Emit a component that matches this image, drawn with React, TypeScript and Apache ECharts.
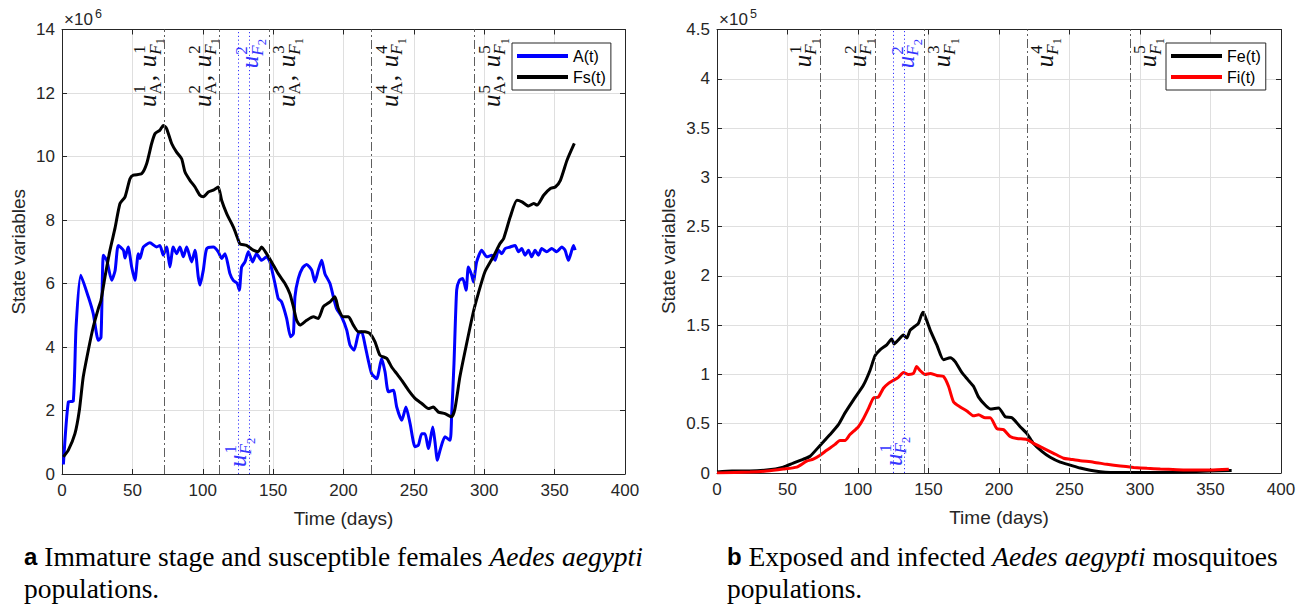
import { useEffect, useRef } from 'react';
import * as echarts from 'echarts';

// ---------- axis ranges / ticks ----------
const DAYS_RANGE = [0, 400];
const DAYS_STEP = 50;
const LEFT_Y_RANGE = [0, 14]; // x 10^6
const LEFT_Y_STEP = 2;
const RIGHT_Y_RANGE = [0, 4.5]; // x 10^5
const RIGHT_Y_STEP = 0.5;
const LEFT_EXPONENT = '6';
const RIGHT_EXPONENT = '5';

// ---------- intervention days ----------
const CONTROL_DAYS = [73, 112, 147, 220, 293]; // u_A^k , u_F1^k
const F2_DAYS = [125, 133]; // u_F2^1 , u_F2^2

// ---------- A(t) (x 10^6) ----------
const A_T = [1, 4.5, 8, 10, 13.3, 18.7, 22.2, 25.8, 27.7, 29.4, 31.8, 35.3, 37.7, 40, 43.6, 44.8, 47, 49.5, 51.8, 54.2, 55.4, 57.8, 62.5, 67.2, 69.6, 71.9, 74.3, 76.7, 79, 81.4, 83.8, 86.2, 88.6, 92.1, 94.5, 96.8, 98, 100.4, 102.8, 107.5, 111, 113.4, 115.8, 119.3, 121.7, 124.5, 126, 127.6, 130, 132.4, 135.4, 138.2, 141.8, 145.3, 147.7, 151.3, 153.6, 156, 159.6, 162.4, 164.4, 165.5, 167.9, 171, 173.8, 177.4, 179.7, 182.1, 184.5, 186.8, 190.4, 192.8, 195.1, 198.7, 202.3, 204.6, 207.5, 210.6, 212.9, 215.3, 217.6, 220, 223.6, 227.1, 229.5, 231.9, 235.4, 237.8, 241.4, 244.4, 247.3, 250.8, 253.2, 255.6, 257.9, 260.3, 263.4, 265, 266.7, 268.6, 272.1, 275.7, 276.8, 278.5, 280.4, 282.3, 284.7, 287.1, 288.7, 291.1, 292.3, 294.6, 298.2, 301.8, 305.4, 307.7, 310.1, 312.5, 314.8, 318.4, 321.9, 324.3, 326.6, 329, 331.4, 333.7, 336.1, 338.5, 340.8, 344.4, 347.9, 351.5, 355.1, 357.4, 359.8, 361.5, 363.4, 364.6];
const A_V = [0.3, 2.27, 2.3, 4.63, 6.26, 5.58, 5.05, 4.21, 4.3, 6.89, 6.73, 6.1, 6.4, 7.2, 7.05, 6.8, 7.15, 6.52, 6.1, 6.94, 6.79, 7.15, 7.28, 7.15, 7.2, 6.89, 7.15, 6.52, 7.15, 6.94, 7.15, 6.84, 7.15, 6.68, 7.05, 6.21, 5.95, 6.42, 7.1, 7.15, 7.0, 6.79, 6.94, 6.31, 6.1, 6.0, 5.79, 6.52, 6.68, 7.0, 6.68, 6.94, 6.73, 6.84, 6.68, 6.0, 5.53, 5.42, 4.9, 4.32, 4.42, 5.58, 6.16, 6.5, 6.6, 6.42, 6.05, 6.42, 6.73, 6.31, 6.0, 5.58, 5.21, 4.95, 4.53, 4.06, 3.9, 4.42, 4.48, 4.06, 3.58, 3.16, 3.0, 3.64, 3.22, 2.59, 2.64, 2.11, 1.69, 2.11, 1.59, 0.86, 0.91, 1.27, 1.27, 0.8, 1.48, 1.01, 0.43, 0.75, 1.17, 1.06, 1.8, 3.48, 5.79, 6.1, 6.16, 5.79, 6.52, 6.26, 6.05, 6.68, 7.05, 6.84, 6.89, 6.73, 7.05, 6.94, 7.1, 7.15, 7.2, 7.0, 7.1, 6.89, 7.05, 6.84, 7.05, 6.89, 7.1, 7.0, 7.1, 7.0, 7.15, 7.05, 6.73, 6.94, 7.2, 7.05];

// ---------- Fs(t) (x 10^6) ----------
const FS_T = [1, 4.5, 9.2, 12.3, 15.1, 18.7, 22.2, 25.8, 27.7, 30.5, 34.1, 37.7, 41.2, 44.8, 48.3, 50.7, 56.6, 60.2, 63.7, 66.1, 69.6, 72, 74.3, 77.9, 81.4, 85, 87.4, 90.9, 94.5, 98, 100.4, 104, 107.5, 111, 113.4, 117, 121.7, 124.5, 126.4, 131.1, 135.9, 139.4, 141.8, 145.3, 148.9, 153.6, 158.4, 161.9, 164.4, 166.7, 169.1, 173.8, 178.6, 182.1, 185.7, 190.4, 193.9, 196.3, 199.9, 203.5, 207, 210.6, 215.3, 218.8, 222.4, 225.9, 230.7, 234.2, 237.8, 241.4, 246.1, 250.8, 255.6, 260.3, 263.8, 267.4, 272.1, 276.8, 279.2, 282.7, 287.5, 292.3, 295.8, 300.5, 306.4, 311.2, 313.8, 318.5, 323.2, 326.8, 331.5, 335.1, 337.5, 342.2, 347, 350.5, 354.1, 358.8, 364];
const FS_V = [0.54, 0.75, 1.27, 2.0, 3.06, 3.9, 4.63, 5.21, 5.47, 6.2, 7.05, 7.75, 8.52, 8.73, 9.3, 9.41, 9.46, 9.78, 10.41, 10.72, 10.83, 10.98, 10.88, 10.41, 10.14, 9.93, 9.51, 9.25, 9.04, 8.78, 8.73, 8.88, 8.94, 9.04, 8.62, 8.2, 7.78, 7.46, 7.25, 7.2, 7.05, 7.0, 7.15, 6.94, 6.68, 6.31, 6.0, 5.68, 5.27, 4.84, 4.69, 4.84, 4.95, 4.9, 5.27, 5.42, 5.58, 5.21, 4.95, 4.95, 4.69, 4.48, 4.48, 4.42, 4.16, 3.74, 3.64, 3.37, 3.16, 2.95, 2.64, 2.38, 2.22, 2.06, 2.11, 1.95, 1.9, 1.8, 2.06, 3.06, 4.11, 5.11, 5.69, 6.37, 6.84, 7.26, 7.42, 8.1, 8.62, 8.57, 8.44, 8.52, 8.47, 8.78, 8.99, 9.04, 9.25, 9.88, 10.41];

// ---------- Fe(t) (x 10^5) ----------
const FE_T = [0, 10.6, 23.4, 35.2, 47, 54.1, 61.3, 66, 73.1, 80.2, 86.1, 90.8, 96.7, 103.8, 108.5, 112.1, 115.6, 120.4, 123.9, 125.6, 128.6, 132.2, 134.6, 137, 140.5, 142.9, 146, 147.6, 151.2, 155.9, 160.6, 165.4, 168.9, 173.6, 177.7, 181.9, 185.5, 190.2, 193.8, 199.7, 204.4, 209.2, 215, 219.8, 224.5, 230.4, 236.3, 243.4, 250.5, 257.6, 264.7, 271.8, 278.9, 290, 310, 330, 350, 365];
const FE_V = [0.01, 0.02, 0.02, 0.03, 0.06, 0.1, 0.14, 0.17, 0.28, 0.39, 0.49, 0.61, 0.74, 0.89, 1.04, 1.19, 1.25, 1.3, 1.36, 1.31, 1.35, 1.4, 1.37, 1.45, 1.49, 1.52, 1.63, 1.59, 1.45, 1.3, 1.15, 1.17, 1.13, 1.02, 0.95, 0.88, 0.77, 0.69, 0.65, 0.66, 0.57, 0.56, 0.47, 0.4, 0.3, 0.22, 0.16, 0.11, 0.08, 0.05, 0.027, 0.013, 0.006, 0.004, 0.005, 0.01, 0.02, 0.025];

// ---------- Fi(t) (x 10^5) ----------
const FI_T = [0, 23.4, 35.2, 47, 56.5, 63.6, 68.3, 73.1, 77.8, 83.7, 87.2, 90.8, 94.3, 100.3, 103.8, 107.3, 110.9, 114.4, 118, 121.6, 125.1, 128.6, 132.2, 135.7, 139.3, 141.6, 144, 147.6, 151.2, 155.9, 160.6, 164.2, 167.8, 172.5, 177.2, 182, 185.5, 190.2, 193.8, 198.5, 203.2, 207.9, 212.7, 219.8, 224.5, 231.6, 238.7, 245.8, 250.5, 257.6, 267.1, 276.5, 286, 295.5, 305, 314.4, 326.3, 338.1, 349.9, 363];
const FI_V = [0, 0.01, 0.02, 0.04, 0.06, 0.12, 0.14, 0.18, 0.23, 0.29, 0.33, 0.33, 0.39, 0.47, 0.55, 0.65, 0.76, 0.77, 0.86, 0.91, 0.94, 0.97, 1.02, 1.0, 1.01, 1.08, 1.04, 1.0, 1.01, 0.99, 0.98, 0.88, 0.72, 0.67, 0.63, 0.58, 0.59, 0.56, 0.56, 0.45, 0.44, 0.37, 0.35, 0.34, 0.3, 0.25, 0.2, 0.15, 0.14, 0.125, 0.11, 0.088, 0.07, 0.057, 0.047, 0.04, 0.034, 0.03, 0.03, 0.037];

const LEFT_SERIES = ['A(t)', 'Fs(t)'];
const RIGHT_SERIES = ['Fe(t)', 'Fi(t)'];
const X_NAME = 'Time (days)';
const Y_NAME = 'State variables';

const AXIS_COLOR = '#262626';
const GRID_COLOR = '#dfdfdf';
const CTRL_COLOR = '#5f5f5f';
const F2_COLOR = '#3535ff';
const SANS = '"Liberation Sans", Arial, sans-serif';
const SERIF_NAME = 'Liberation Serif';
const SERIF = '"Liberation Serif", "Times New Roman", serif';
const TICK_FONT = 17;
const NAME_FONT = 19;

const zip = (t: number[], v: number[]) => t.map((x, i) => [x, v[i]]);

function xAxes(gridIndex: number) {
  const base = {
    type: 'value', gridIndex, min: DAYS_RANGE[0], max: DAYS_RANGE[1], interval: DAYS_STEP,
    axisLine: { show: true, onZero: false, lineStyle: { color: AXIS_COLOR, width: 1 } },
    axisTick: { show: true, inside: true, length: 5, lineStyle: { color: AXIS_COLOR } },
  };
  return [
    {
      ...base, position: 'bottom',
      axisLabel: { fontSize: TICK_FONT, color: AXIS_COLOR, fontFamily: SANS, margin: 8 },
      splitLine: { show: true, lineStyle: { color: GRID_COLOR, width: 1 } },
      name: X_NAME, nameLocation: 'middle', nameGap: 34.5,
      nameTextStyle: { fontSize: NAME_FONT, color: AXIS_COLOR, fontFamily: SANS },
    },
    { ...base, position: 'top', axisLabel: { show: false }, splitLine: { show: false } },
  ];
}

function yAxes(gridIndex: number, range: number[], step: number, nameGap: number) {
  const base = {
    type: 'value', gridIndex, min: range[0], max: range[1], interval: step,
    axisLine: { show: true, onZero: false, lineStyle: { color: AXIS_COLOR, width: 1 } },
    axisTick: { show: true, inside: true, length: 5, lineStyle: { color: AXIS_COLOR } },
  };
  return [
    {
      ...base, position: 'left',
      axisLabel: { fontSize: TICK_FONT, color: AXIS_COLOR, fontFamily: SANS, margin: 7 },
      splitLine: { show: true, lineStyle: { color: GRID_COLOR, width: 1 } },
      name: Y_NAME, nameLocation: 'middle', nameGap,
      nameTextStyle: { fontSize: NAME_FONT, color: AXIS_COLOR, fontFamily: SANS },
    },
    { ...base, position: 'right', axisLabel: { show: false }, splitLine: { show: false } },
  ];
}

function markerSeries(xi: number, yi: number) {
  return {
    type: 'line', xAxisIndex: xi, yAxisIndex: yi, data: [], silent: true,
    markLine: {
      silent: true, symbol: ['none', 'none'], label: { show: false }, emphasis: { disabled: true },
      data: [
        ...CONTROL_DAYS.map((d) => ({ xAxis: d, lineStyle: { color: CTRL_COLOR, type: [9, 3, 2, 3], width: 1 } })),
        ...F2_DAYS.map((d) => ({ xAxis: d, lineStyle: { color: F2_COLOR, type: [1.2, 2.6], width: 1 } })),
      ],
    },
  };
}

function lineSeries(name: string, t: number[], v: number[], color: string, xi: number, yi: number) {
  return {
    type: 'line', name, xAxisIndex: xi, yAxisIndex: yi, data: zip(t, v),
    showSymbol: false, symbol: 'none', smooth: 0.2,
    lineStyle: { color, width: 3 }, itemStyle: { color },
    emphasis: { disabled: true },
  };
}

function legend(names: string[], left: number) {
  return {
    data: names, left, top: 43, orient: 'vertical', icon: 'rect',
    itemWidth: 51, itemHeight: 4, itemGap: 5, padding: [5, 5, 5, 5],
    borderColor: AXIS_COLOR, borderWidth: 1, backgroundColor: '#fff',
    textStyle: { fontSize: 16, color: '#000', fontFamily: SANS }, selectedMode: false,
  };
}

// ---------- LaTeX-like rotated labels ----------
const LF = 25, LS = 17, LSS = 12.5;
let measureCtx: CanvasRenderingContext2D | null = null;
function tw(s: string, size: number, italic: boolean) {
  if (!measureCtx) measureCtx = document.createElement('canvas').getContext('2d');
  measureCtx!.font = `${italic ? 'italic ' : ''}${size}px "${SERIF_NAME}"`;
  return measureCtx!.measureText(s).width;
}
function glyph(text: string, x: number, baseline: number, size: number, italic: boolean, color: string) {
  return {
    type: 'text', x, y: baseline - 0.34 * size, silent: true,
    style: {
      text, fontSize: size, fontFamily: SERIF, fontStyle: italic ? 'italic' : 'normal', fill: color,
      align: 'left', verticalAlign: 'middle', textAlign: 'left', textVerticalAlign: 'middle',
    },
  };
}
type Term = { sup: string; sub: string; subItalic: boolean; subsub?: string };
function buildLabel(terms: Term[], color: string) {
  const children: any[] = [];
  let x = 0;
  terms.forEach((t, i) => {
    if (i > 0) {
      children.push(glyph(',', x + 1, 0, LF, false, color));
      x += tw(',', LF, false) + 0.35 * LF;
    }
    children.push(glyph('u', x, 0, LF, true, color));
    const sx = x + tw('u', LF, true) + 0.5;
    children.push(glyph(t.sup, sx + 0.5, -0.42 * LF, LS, false, color));
    children.push(glyph(t.sub, sx - 0.5, 0.2 * LF, LS, t.subItalic, color));
    let subw = tw(t.sub, LS, t.subItalic) - 0.5;
    if (t.subsub) {
      children.push(glyph(t.subsub, sx + subw, 0.2 * LF + 0.14 * LF, LSS, false, color));
      subw += tw(t.subsub, LSS, false);
    }
    x = sx + Math.max(tw(t.sup, LS, false) + 0.5, subw);
  });
  return { children, length: x };
}

function buildGraphics(chart: echarts.ECharts) {
  const els: any[] = [];
  const px = (xi: number, v: number) => chart.convertToPixel({ xAxisIndex: xi } as any, v) as number;
  const py = (yi: number, v: number) => chart.convertToPixel({ yAxisIndex: yi } as any, v) as number;

  const panels = [
    { xi: 0, yi: 0, yMax: LEFT_Y_RANGE[1], withA: true, exp: LEFT_EXPONENT },
    { xi: 2, yi: 2, yMax: RIGHT_Y_RANGE[1], withA: false, exp: RIGHT_EXPONENT },
  ];
  panels.forEach((p) => {
    const top = py(p.yi, p.yMax);
    const bottom = py(p.yi, 0);
    const left = px(p.xi, DAYS_RANGE[0]);
    // exponent label
    els.push({ type: 'text', x: left + 2, y: top - 4.5 - 0.35 * 17, silent: true,
      style: { text: '\u00d710', fontSize: 17, fontFamily: SANS, fill: AXIS_COLOR, align: 'left', verticalAlign: 'middle', textAlign: 'left', textVerticalAlign: 'middle' } });
    els.push({ type: 'text', x: left + 2 + 31, y: top - 11.5 - 0.35 * 12.5, silent: true,
      style: { text: p.exp, fontSize: 12.5, fontFamily: SANS, fill: AXIS_COLOR, align: 'left', verticalAlign: 'middle', textAlign: 'left', textVerticalAlign: 'middle' } });

    CONTROL_DAYS.forEach((d, k) => {
      const n = String(k + 1);
      const terms: Term[] = p.withA
        ? [{ sup: n, sub: 'A', subItalic: false }, { sup: n, sub: 'F', subItalic: true, subsub: '1' }]
        : [{ sup: n, sub: 'F', subItalic: true, subsub: '1' }];
      const lb = buildLabel(terms, '#111');
      const off = k < 2 ? -8.5 : 26;
      els.push({ type: 'group', x: px(p.xi, d) + off, y: top + 8.5 + lb.length, rotation: Math.PI / 2, children: lb.children, silent: true });
    });
    // u_F2^2 at top
    const lt = buildLabel([{ sup: '2', sub: 'F', subItalic: true, subsub: '2' }], F2_COLOR);
    els.push({ type: 'group', x: px(p.xi, F2_DAYS[1]) + 9, y: top + 9.5 + lt.length, rotation: Math.PI / 2, children: lt.children, silent: true });
    // u_F2^1 at bottom
    const lbt = buildLabel([{ sup: '1', sub: 'F', subItalic: true, subsub: '2' }], F2_COLOR);
    els.push({ type: 'group', x: px(p.xi, F2_DAYS[0]) + 8.5, y: bottom - 7, rotation: Math.PI / 2, children: lbt.children, silent: true });
  });

  // captions
  const capRich = {
    b: { fontFamily: SANS, fontWeight: 'bold', fontSize: 24, fill: '#000' },
    r: { fontFamily: SERIF, fontSize: 27.5, fill: '#000' },
    i: { fontFamily: SERIF, fontStyle: 'italic', fontSize: 27.5, fill: '#000' },
  };
  const cap = (x: number, y: number, text: string) => ({
    type: 'text', x, y, silent: true,
    style: { text, rich: capRich, fontSize: 27.5, fontFamily: SERIF, fill: '#000', align: 'left', verticalAlign: 'middle', textAlign: 'left', textVerticalAlign: 'middle' },
  });
  els.push(cap(24, 556, '{b|a}{r| Immature stage and susceptible females }{i|Aedes aegypti}'));
  els.push(cap(24, 588, '{r|populations.}'));
  els.push(cap(727, 556, '{b|b}{r| Exposed and infected }{i|Aedes aegypti}{r| mosquitoes}'));
  els.push(cap(727, 588, '{r|populations.}'));
  return els;
}

export default function App() {
  const ref = useRef<HTMLDivElement>(null);
  useEffect(() => {
    if (!ref.current) return;
    const chart = echarts.init(ref.current, null, { renderer: 'svg' });
    chart.setOption({
      animation: false,
      backgroundColor: '#fff',
      grid: [
        { left: 62, top: 29.5, width: 563, height: 444.5 },
        { left: 717, top: 29.5, width: 564, height: 443.5 },
      ],
      xAxis: [...xAxes(0), ...xAxes(1)],
      yAxis: [...yAxes(0, LEFT_Y_RANGE, LEFT_Y_STEP, 34.5), ...yAxes(1, RIGHT_Y_RANGE, RIGHT_Y_STEP, 39.5)],
      legend: [legend(LEFT_SERIES, 512), legend(RIGHT_SERIES, 1166)],
      series: [
        markerSeries(0, 0),
        lineSeries(LEFT_SERIES[0], A_T, A_V, '#0000ff', 0, 0),
        lineSeries(LEFT_SERIES[1], FS_T, FS_V, '#000000', 0, 0),
        markerSeries(2, 2),
        lineSeries(RIGHT_SERIES[0], FE_T, FE_V, '#000000', 2, 2),
        lineSeries(RIGHT_SERIES[1], FI_T, FI_V, '#ff0000', 2, 2),
      ],
    });
    chart.setOption({ graphic: buildGraphics(chart) });
    return () => chart.dispose();
  }, []);
  return (
    <div
      ref={ref}
      style={{ position: 'fixed', left: 0, top: 0, width: 1309, height: 606, background: '#fff' }}
    />
  );
}
